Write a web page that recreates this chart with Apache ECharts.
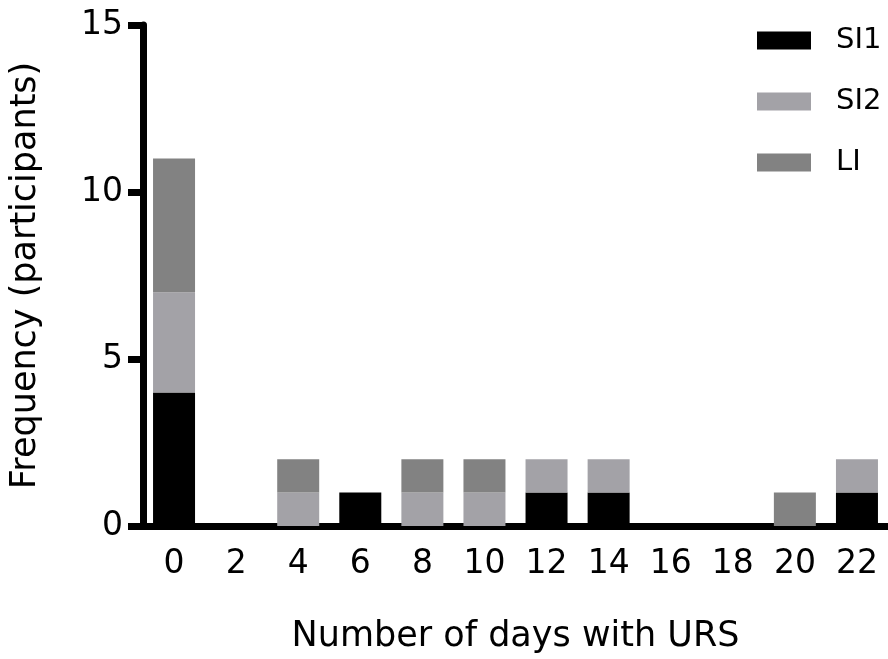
<!DOCTYPE html>
<html>
<head>
<meta charset="utf-8">
<script src="https://cdn.jsdelivr.net/npm/echarts@6/dist/echarts.min.js"></script>
<style>
html,body{margin:0;padding:0;background:#fff;}
#chart{width:888px;height:659px;}
</style>
</head>
<body>
<div id="chart"></div>
<script>
var categories = ['0','2','4','6','8','10','12','14','16','18','20','22'];
var si1 = [4,0,0,1,0,0,1,1,0,0,0,1];
var si2 = [3,0,1,0,1,1,1,1,0,0,0,1];
var li  = [4,0,1,0,1,1,0,0,0,0,1,0];
var yTicks = [0,5,10,15];

var FONT = '"DejaVu Sans", "Liberation Sans", Arial, sans-serif';
var chart = echarts.init(document.getElementById('chart'));
chart.setOption({
  animation: false,
  backgroundColor: '#ffffff',
  textStyle: {fontFamily: FONT},
  grid: {left: 143, top: 25, bottom: 133, width: 749, containLabel: false},
  legend: {
    orient: 'vertical',
    left: 752,
    top: 21,
    itemWidth: 54,
    itemHeight: 18,
    itemGap: 32,
    icon: 'rect',
    textStyle: {fontSize: 29, color: '#000', fontFamily: FONT, padding: [0,0,0,20]},
    data: ['SI1','SI2','LI']
  },
  xAxis: {
    type: 'category',
    data: categories,
    name: 'Number of days with URS',
    nameLocation: 'middle',
    nameGap: 93,
    nameTextStyle: {fontSize: 35, color: '#000', fontFamily: FONT},
    axisLine: {lineStyle: {color: '#000', width: 7}},
    axisTick: {alignWithLabel: true, length: 15, lineStyle: {color: '#000', width: 7}},
    axisLabel: {fontSize: 33, color: '#000', margin: 22, fontFamily: FONT, interval: 0}
  },
  yAxis: {
    type: 'value',
    min: yTicks[0],
    max: yTicks[yTicks.length-1],
    interval: 5,
    name: 'Frequency (participants)',
    nameLocation: 'middle',
    nameGap: 100,
    nameTextStyle: {fontSize: 35, color: '#000', fontFamily: FONT},
    axisLine: {show: true, lineStyle: {color: '#000', width: 7}},
    axisTick: {show: true, length: 15, lineStyle: {color: '#000', width: 7}},
    axisLabel: {fontSize: 33, color: '#000', margin: 20, fontFamily: FONT},
    splitLine: {show: false}
  },
  series: [
    {name: 'SI1', type: 'bar', stack: 'a', data: si1, barWidth: 42, itemStyle: {color: '#000000'}},
    {name: 'SI2', type: 'bar', stack: 'a', data: si2, barWidth: 42, itemStyle: {color: '#a3a2a7'}},
    {name: 'LI',  type: 'bar', stack: 'a', data: li,  barWidth: 42, itemStyle: {color: '#828282'}}
  ]
});
</script>
</body>
</html>
